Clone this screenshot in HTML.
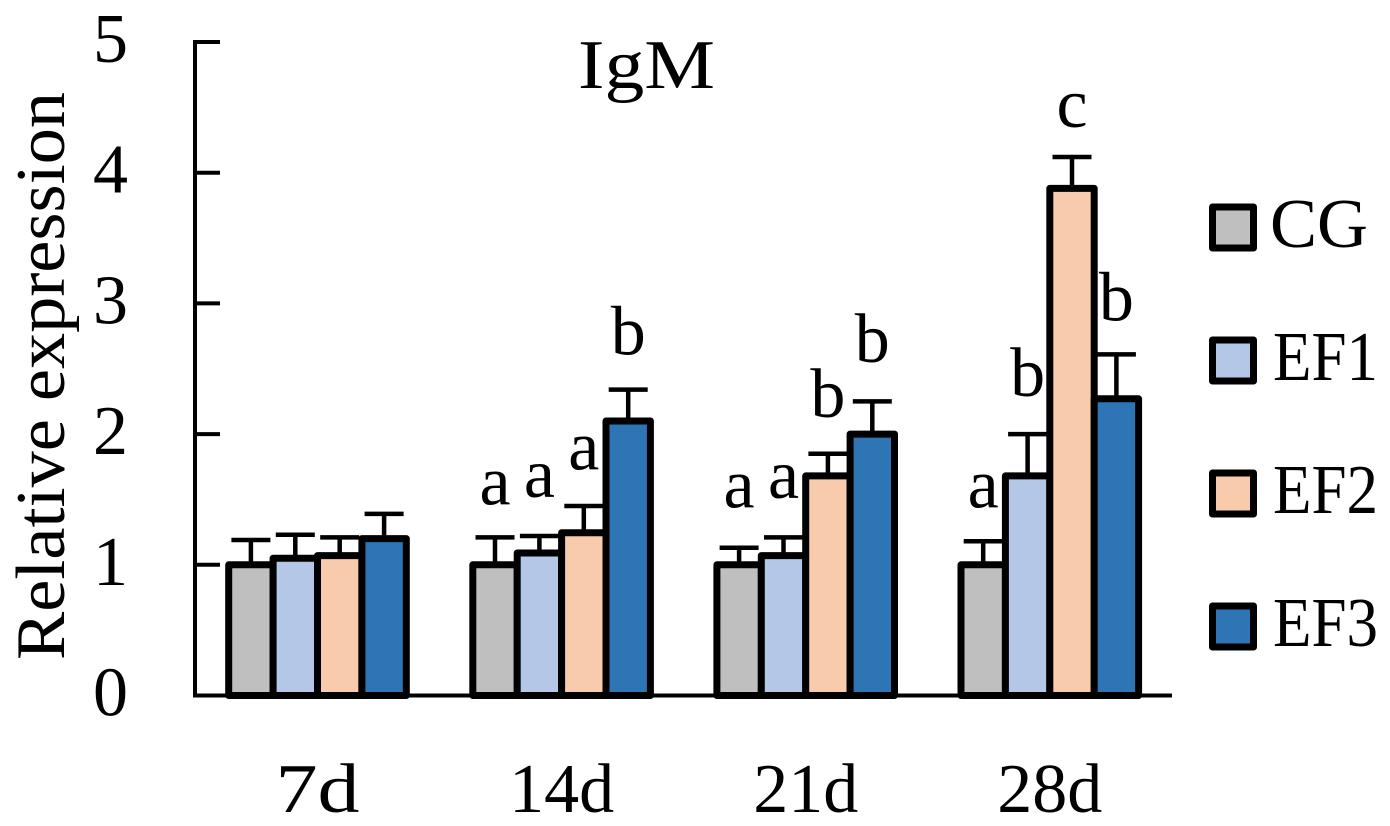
<!DOCTYPE html>
<html>
<head>
<meta charset="utf-8">
<title>IgM relative expression</title>
<style>
html,body{margin:0;padding:0;background:#fff;width:1390px;height:826px;overflow:hidden}
svg{display:block}
text{font-family:"Liberation Serif",serif;fill:#000}
</style>
</head>
<body>
<svg id="chart" width="1390" height="826" viewBox="0 0 1390 826" xmlns="http://www.w3.org/2000/svg"></svg>
<script>
const categories = ['7d', '14d', '21d', '28d'];
const seriesNames = ['CG', 'EF1', 'EF2', 'EF3'];
const seriesColors = ['#BFBFBF', '#B4C7E7', '#F8CBAD', '#2E75B6'];
const valuesCG = [1.0, 1.0, 1.0, 1.0];
const valuesEF1 = [1.05, 1.09, 1.07, 1.68];
const valuesEF2 = [1.07, 1.245, 1.68, 3.88];
const valuesEF3 = [1.2, 2.1, 2.0, 2.27];
const errorsCG = [0.19, 0.21, 0.13, 0.18];
const errorsEF1 = [0.18, 0.13, 0.14, 0.32];
const errorsEF2 = [0.14, 0.205, 0.17, 0.24];
const errorsEF3 = [0.19, 0.24, 0.25, 0.34];
const lettersCG = ['', 'a', 'a', 'a'];
const lettersEF1 = ['', 'a', 'a', 'b'];
const lettersEF2 = ['', 'a', 'b', 'c'];
const lettersEF3 = ['', 'b', 'b', 'b'];
const letterLiftCG = [0, 0.25, 0.31, 0.26];
const letterLiftEF1 = [0, 0.30, 0.30, 0.29];
const letterLiftEF2 = [0, 0.28, 0.28, 0.23];
const letterLiftEF3 = [0, 0.27, 0.30, 0.26];
const yTicks = [0, 1, 2, 3, 4, 5];

const seriesValues = [valuesCG, valuesEF1, valuesEF2, valuesEF3];
const seriesErrors = [errorsCG, errorsEF1, errorsEF2, errorsEF3];
const seriesLetters = [lettersCG, lettersEF1, lettersEF2, lettersEF3];
const seriesLifts = [letterLiftCG, letterLiftEF1, letterLiftEF2, letterLiftEF3];

const svg = document.getElementById('chart');
const NS = 'http://www.w3.org/2000/svg';
const Y0 = 695.5, UNIT = 130.7;
const GROUP0 = 317.5, GROUP_STEP = 244.1, BAR_STEP = 44.4;
function yScale(v) { return Y0 - v * UNIT; }
function groupX(i) { return GROUP0 + i * GROUP_STEP; }
function barX(g, s) { return groupX(g) + (s - 1.5) * BAR_STEP; }
function make(tag, attrs, parent) {
  const el = document.createElementNS(NS, tag);
  for (const k in attrs) el.setAttribute(k, attrs[k]);
  (parent || svg).appendChild(el);
  return el;
}
function label(str, x, y, size, anchor, len) {
  const attrs = { x: x, y: y, 'font-size': size, 'text-anchor': anchor };
  if (len) { attrs.textLength = len; attrs.lengthAdjust = 'spacingAndGlyphs'; }
  const t = make('text', attrs);
  t.textContent = str;
  return t;
}

// y axis and ticks
const yAxis = make('line', { x1: 195, x2: 195, y1: yScale(5) - 2, y2: Y0 + 2, stroke: '#000', 'stroke-width': 4 });


yTicks.forEach(function (v) {
  const tick = make('line', { x1: 195, x2: 220, y1: yScale(v), y2: yScale(v), stroke: '#000', 'stroke-width': 4 });
  
  
  const t = label(String(v), 110.5, yScale(v) + 20, 70, 'middle');
  
  
});
const xAxis = make('line', { x1: 193, x2: 1172, y1: Y0, y2: Y0, stroke: '#000', 'stroke-width': 4 });



// error bars first, bars on top
seriesValues.forEach(function (vals, s) {
  vals.forEach(function (v, g) {
    const x = barX(g, s);
    const top = yScale(v + seriesErrors[s][g]);
    const stem = make('line', { x1: x, x2: x, y1: yScale(v), y2: top, stroke: '#000', 'stroke-width': 4.5 });
    
    
    const cap = make('line', { x1: x - 19.5, x2: x + 19.5, y1: top, y2: top, stroke: '#000', 'stroke-width': 4.5 });
    
    
  });
});
seriesValues.forEach(function (vals, s) {
  vals.forEach(function (v, g) {
    const x = barX(g, s);
    const bar = make('rect', {
      x: x - BAR_STEP / 2, y: yScale(v), width: BAR_STEP, height: Y0 - yScale(v),
      fill: seriesColors[s], stroke: '#000', 'stroke-width': 7, 'stroke-linejoin': 'round'
    });
    
    
  });
});
// significance letters
seriesLetters.forEach(function (letters, s) {
  letters.forEach(function (ch, g) {
    if (!ch) return;
    const v = seriesValues[s][g] + seriesErrors[s][g] + seriesLifts[s][g];
    const t = label(ch, barX(g, s), yScale(v), 70, 'middle');
    
    
  });
});
// category labels
categories.forEach(function (c, i) {
  const t = label(c, groupX(i), 812, 70, 'middle', c.length === 2 ? 84 : 105);
  
  
});
// legend
seriesNames.forEach(function (n, s) {
  const ly = 207 + s * 133;
  const box = make('rect', { x: 1212.5, y: ly, width: 41, height: 41, fill: seriesColors[s], stroke: '#000', 'stroke-width': 7, 'stroke-linejoin': 'round' });
  
  
  const t = label(n, s === 0 ? 1270 : 1273, ly + 40, 70, 'start', s === 0 ? 98 : 105);
  
  
});
// title and axis title
const title = label('IgM', 646.5, 88, 70, 'middle', 137);


const yTitle = label('Relative expression', 0, 0, 70, 'middle', 568);
yTitle.setAttribute('transform', 'translate(64 376) rotate(-90)');


</script>
</body>
</html>
